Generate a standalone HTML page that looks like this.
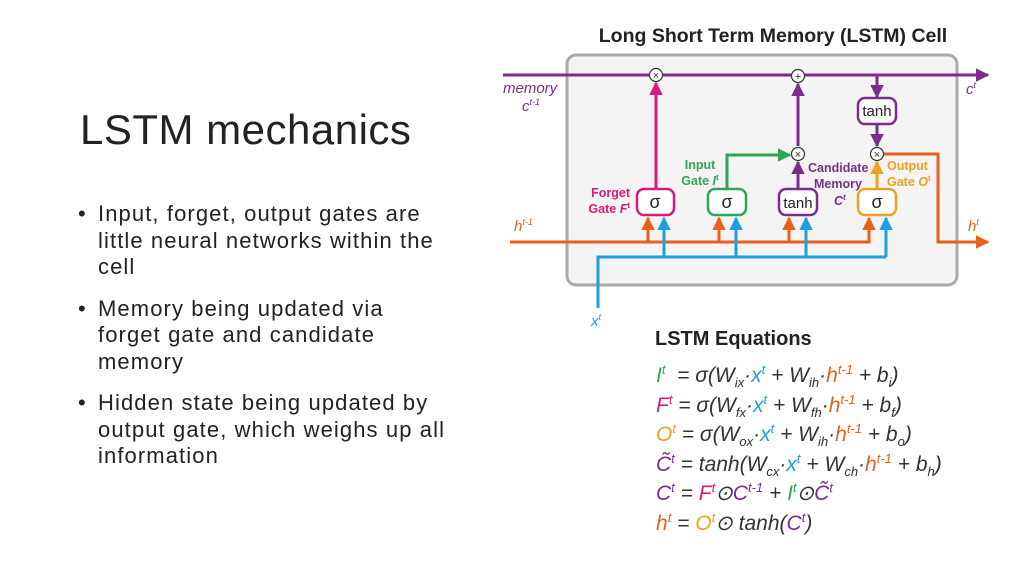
<!DOCTYPE html><html><head><style>
body{margin:0;width:1024px;height:576px;background:#fff;overflow:hidden;position:relative;font-family:"Liberation Sans",sans-serif}
h1{position:absolute;left:80px;top:106px;margin:0;font-weight:normal;font-size:42px;color:#222;letter-spacing:0.5px}
ul{position:absolute;left:78px;top:201px;margin:0;padding:0;list-style:none;width:420px;font-size:22px;line-height:26.5px;color:#222;letter-spacing:1.1px;white-space:nowrap}
li{position:relative;padding-left:20px;margin-bottom:15px}
li:before{content:"•";position:absolute;left:0}
.eq{position:absolute;left:656px;font-family:"Liberation Sans",sans-serif;font-style:italic;font-size:21px;color:#333;white-space:nowrap}
sup{font-size:13px}sub{font-size:13px}
.g{color:#2fa55a}.m{color:#d81b7a}.o{color:#f0a020}.p{color:#7b2d8e}.b{color:#1ea0dc}.r{color:#e8601c}
</style></head><body>
<h1>LSTM mechanics</h1>
<ul><li>Input, forget, output gates are<br>little neural networks within the<br>cell</li><li>Memory being updated via<br>forget gate and candidate<br>memory</li><li>Hidden state being updated by<br>output gate, which weighs up all<br>information</li></ul>
<svg width="1024" height="576" style="position:absolute;left:0;top:0" font-family="Liberation Sans,sans-serif">
<defs>
<marker id="ap" markerWidth="4.5" markerHeight="4.5" refX="4" refY="2.25" orient="auto" markerUnits="strokeWidth"><path d="M0,0L4.5,2.25L0,4.5z" fill="#7b2d8e"/></marker>
<marker id="ar" markerWidth="4.5" markerHeight="4.5" refX="4" refY="2.25" orient="auto" markerUnits="strokeWidth"><path d="M0,0L4.5,2.25L0,4.5z" fill="#e8601c"/></marker>
<marker id="ab" markerWidth="4.5" markerHeight="4.5" refX="4" refY="2.25" orient="auto" markerUnits="strokeWidth"><path d="M0,0L4.5,2.25L0,4.5z" fill="#1ea0dc"/></marker>
<marker id="am" markerWidth="4.5" markerHeight="4.5" refX="4" refY="2.25" orient="auto" markerUnits="strokeWidth"><path d="M0,0L4.5,2.25L0,4.5z" fill="#d81b7a"/></marker>
<marker id="ag" markerWidth="4.5" markerHeight="4.5" refX="4" refY="2.25" orient="auto" markerUnits="strokeWidth"><path d="M0,0L4.5,2.25L0,4.5z" fill="#2fa55a"/></marker>
<marker id="ao" markerWidth="4.5" markerHeight="4.5" refX="4" refY="2.25" orient="auto" markerUnits="strokeWidth"><path d="M0,0L4.5,2.25L0,4.5z" fill="#f0a020"/></marker>
</defs>
<text x="773" y="42" text-anchor="middle" font-size="19.5" font-weight="bold" fill="#222">Long Short Term Memory (LSTM) Cell</text>
<rect x="567" y="55" width="390" height="230" rx="9" fill="#f4f4f4" stroke="#aaa" stroke-width="3"/>
<g stroke-width="3" fill="none">
<line x1="503" y1="75" x2="988" y2="75" stroke="#7b2d8e" marker-end="url(#ap)"/>
<line x1="510" y1="242" x2="860" y2="242" stroke="#e8601c"/>
<path d="M598,308V257H886" stroke="#1ea0dc"/>
<path d="M883,154H938V242H988" stroke="#e8601c" marker-end="url(#ar)"/>
<line x1="648" y1="242" x2="648" y2="218" stroke="#e8601c" marker-end="url(#ar)"/>
<line x1="719" y1="242" x2="719" y2="218" stroke="#e8601c" marker-end="url(#ar)"/>
<line x1="789" y1="242" x2="789" y2="218" stroke="#e8601c" marker-end="url(#ar)"/>
<path d="M860,242H869V218" stroke="#e8601c" marker-end="url(#ar)"/>
<line x1="664" y1="257" x2="664" y2="218" stroke="#1ea0dc" marker-end="url(#ab)"/>
<line x1="736" y1="257" x2="736" y2="218" stroke="#1ea0dc" marker-end="url(#ab)"/>
<line x1="806" y1="257" x2="806" y2="218" stroke="#1ea0dc" marker-end="url(#ab)"/>
<line x1="886" y1="257" x2="886" y2="218" stroke="#1ea0dc" marker-end="url(#ab)"/>
<line x1="656" y1="189" x2="656" y2="83" stroke="#d81b7a" marker-end="url(#am)"/>
<path d="M727,189V155H790" stroke="#2fa55a" marker-end="url(#ag)"/>
<line x1="798" y1="189" x2="798" y2="162" stroke="#7b2d8e" marker-end="url(#ap)"/>
<line x1="798" y1="146" x2="798" y2="84" stroke="#7b2d8e" marker-end="url(#ap)"/>
<line x1="877" y1="76" x2="877" y2="97" stroke="#7b2d8e" marker-end="url(#ap)"/>
<line x1="877" y1="124" x2="877" y2="146" stroke="#7b2d8e" marker-end="url(#ap)"/>
<line x1="877" y1="189" x2="877" y2="162" stroke="#f0a020" marker-end="url(#ao)"/>
</g>
<g stroke-width="2.5" fill="#fff">
<rect x="637" y="189" width="37" height="26" rx="7" stroke="#d81b7a"/>
<rect x="708" y="189" width="38" height="26" rx="7" stroke="#2fa55a"/>
<rect x="779" y="189" width="38" height="26" rx="7" stroke="#7b2d8e"/>
<rect x="858" y="189" width="38" height="26" rx="7" stroke="#f0a020"/>
<rect x="858" y="98" width="38" height="26" rx="7" stroke="#7b2d8e"/>
</g>
<g fill="#fff" stroke="#333" stroke-width="1.2">
<circle cx="656" cy="75" r="6.5"/><circle cx="798" cy="76" r="6.5"/><circle cx="798" cy="154" r="6.5"/><circle cx="877" cy="154" r="6.5"/>
</g>
<g font-size="11" fill="#333" text-anchor="middle">
<text x="656" y="79">×</text><text x="798" y="80">+</text><text x="798" y="158">×</text><text x="877" y="158">×</text>
</g>
<g font-size="18" fill="#222" text-anchor="middle">
<text x="655" y="208">σ</text><text x="727" y="208">σ</text><text x="877" y="208">σ</text>
<text x="798" y="208" font-size="15">tanh</text><text x="877" y="116" font-size="15">tanh</text>
</g>
<g font-size="12.5" font-weight="bold">
<text x="630" y="197" text-anchor="end" fill="#d81b7a">Forget</text><text x="630" y="213" text-anchor="end" fill="#d81b7a">Gate <tspan font-style="italic">F</tspan><tspan font-size="8" dy="-5">t</tspan></text>
<text x="700" y="169" text-anchor="middle" fill="#2fa55a">Input</text><text x="700" y="185" text-anchor="middle" fill="#2fa55a">Gate <tspan font-style="italic">I</tspan><tspan font-size="8" dy="-5">t</tspan></text>
<text x="808" y="172" fill="#7b2d8e">Candidate</text><text x="814" y="188" fill="#7b2d8e">Memory</text><text x="834" y="205" fill="#7b2d8e" font-style="italic">C<tspan font-size="8" dy="-5">t</tspan></text>
<text x="887" y="170" fill="#f0a020">Output</text><text x="887" y="186" fill="#f0a020">Gate <tspan font-style="italic">O</tspan><tspan font-size="8" dy="-5">t</tspan></text>
</g>
<g font-size="15" font-style="italic">
<text x="503" y="93" fill="#7b2d8e">memory</text><text x="522" y="111" fill="#7b2d8e">c<tspan font-size="9" dy="-6">t-1</tspan></text>
<text x="966" y="94" fill="#7b2d8e">c<tspan font-size="9" dy="-6">t</tspan></text>
<text x="514" y="231" fill="#e8601c">h<tspan font-size="9" dy="-6">t-1</tspan></text>
<text x="968" y="231" fill="#e8601c">h<tspan font-size="9" dy="-6">t</tspan></text>
<text x="591" y="326" fill="#1ea0dc">x<tspan font-size="9" dy="-6">t</tspan></text>
</g>
<text x="655" y="345" font-size="20" font-weight="bold" fill="#222">LSTM Equations</text>
</svg>
<div class="eq" style="top:362px"><span class="g">I<sup>t</sup></span>&nbsp; = σ(W<sub>ix</sub>·<span class="b">x<sup>t</sup></span> + W<sub>ih</sub>·<span class="r">h<sup>t-1</sup></span> + b<sub>i</sub>)</div>
<div class="eq" style="top:392px"><span class="m">F<sup>t</sup></span> = σ(W<sub>fx</sub>·<span class="b">x<sup>t</sup></span> + W<sub>fh</sub>·<span class="r">h<sup>t-1</sup></span> + b<sub>f</sub>)</div>
<div class="eq" style="top:421px"><span class="o">O<sup>t</sup></span> = σ(W<sub>ox</sub>·<span class="b">x<sup>t</sup></span> + W<sub>ih</sub>·<span class="r">h<sup>t-1</sup></span> + b<sub>o</sub>)</div>
<div class="eq" style="top:451px"><span class="p">C̃<sup>t</sup></span> = tanh(W<sub>cx</sub>·<span class="b">x<sup>t</sup></span> + W<sub>ch</sub>·<span class="r">h<sup>t-1</sup></span> + b<sub>h</sub>)</div>
<div class="eq" style="top:480px"><span class="p">C<sup>t</sup></span> = <span class="m">F<sup>t</sup></span>⊙<span class="p">C<sup>t-1</sup></span> + <span class="g">I<sup>t</sup></span>⊙<span class="p">C̃<sup>t</sup></span></div>
<div class="eq" style="top:510px"><span class="r">h<sup>t</sup></span> = <span class="o">O<sup>t</sup></span>⊙ tanh(<span class="p">C<sup>t</sup></span>)</div>
</body></html>
